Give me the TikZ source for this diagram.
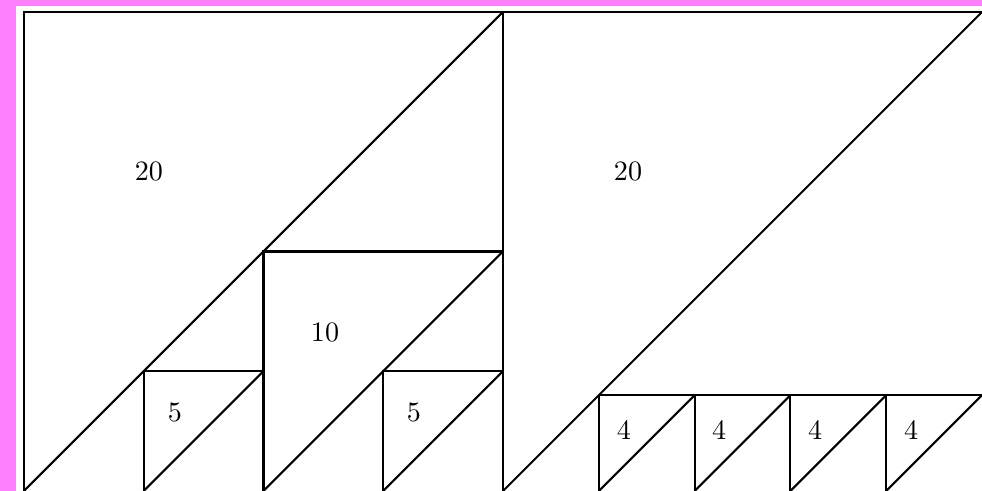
\documentclass[tikz,border=0pt]{standalone}
\definecolor{bgpink}{HTML}{FF80FF}
\begin{document}
\begin{tikzpicture}[x=0.3cm,y=0.3cm,
  edge/.style={line width=0.75pt, line join=miter},
  lbl/.style={inner sep=0pt, font=\normalsize}]
\useasboundingbox (-1,0) rectangle (40,20.5);
\fill[white] (-1,0) rectangle (40,20.5);
\fill[bgpink] (-1,0) rectangle (-0.332,20.5);
\fill[bgpink] (-1,20.25) rectangle (40,20.5);
% left square
\draw[edge] (0,0) -- (0,20) -- (20,20) -- (20,0);
\draw[edge] (20,20) -- (0,0);
% inner square 10
\draw[edge] (10,0) -- (10,10) -- (20,10);
\draw[edge] (20,10) -- (10,0);
% small squares 5
\draw[edge] (5,0) -- (5,5) -- (10,5);
\draw[edge] (10,5) -- (5,0);
\draw[edge] (15,0) -- (15,5) -- (20,5);
\draw[edge] (20,5) -- (15,0);
% right parallelogram
\draw[edge] (20,20) -- (40,20);
\draw[edge] (40,20) -- (20,0);
% small squares 4
\draw[edge] (24,4) -- (40,4);
\foreach \i in {24,28,32,36}{
  \draw[edge] (\i,0) -- (\i,4);
  \draw[edge] (\i+4,4) -- (\i,0);
}
% labels
\node[lbl] (a) at (5.22,13.36) {20};
\node[lbl] (b) at (25.22,13.36) {20};
\node[lbl] (c) at (12.57,6.6) {10};
\node[lbl] (d) at (6.3,3.26) {5};
\node[lbl] (e) at (16.28,3.26) {5};
\node[lbl] (f1) at (25.05,2.55) {4};
\node[lbl] (f2) at (29.02,2.55) {4};
\node[lbl] (f3) at (33.03,2.55) {4};
\node[lbl] (f4) at (37.04,2.55) {4};
\end{tikzpicture}
\end{document}
